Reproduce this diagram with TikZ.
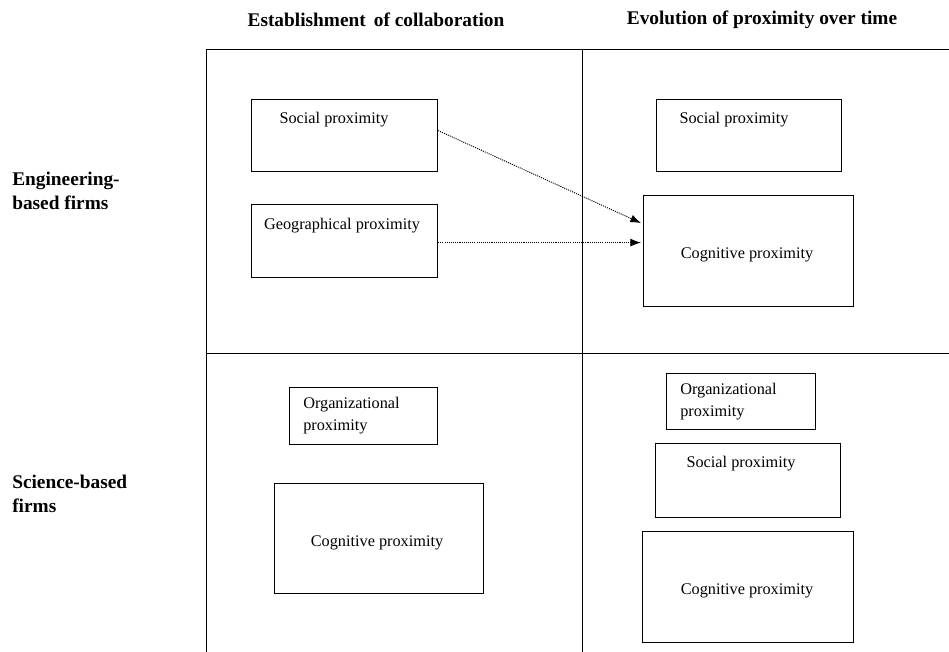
\documentclass[tikz,border=0pt]{standalone}
\usepackage{fontspec}
\setmainfont{Liberation Serif}
\usetikzlibrary{calc,arrows.meta}
\begin{document}
\begin{tikzpicture}[x=0.75pt,y=-0.75pt,
  box/.style={draw, line width=0.85pt, inner sep=0pt, anchor=north west},
  hdr/.style={font=\bfseries\fontsize{14.5}{17}\selectfont, inner sep=0pt},
  rowlab/.style={font=\bfseries\fontsize{14.5}{18}\selectfont, align=left, anchor=north west, inner sep=0pt},
  txt/.style={font=\fontsize{12.2}{16.5}\selectfont, inner sep=0pt},
  grid/.style={line width=0.75pt},
  flow/.style={line width=0.7pt, dash pattern=on 0.8pt off 0.8pt, -{Latex[length=8pt,width=6pt]}}]
\useasboundingbox (0,0) rectangle (949,652);
% grid
\draw[grid] (206,652) -- (206,50) -- (949,50);
\draw[grid] (582,50) -- (582,652);
\draw[grid] (206,353) -- (949,353);
% headers
\node[hdr] (h1) at (376,19.5) {Establishment\, of collaboration};
\node[hdr] (h2) at (762,19.5) {Evolution of proximity over time};
\node[rowlab] (r1) at (12,172) {Engineering-\\based firms};
\node[rowlab] (r2) at (12,475) {Science-based\\firms};
% top-left boxes
\node[box, minimum width={186*0.75}, minimum height={72*0.75}] (soc1) at (251,99) {};
\node[txt] (soc1t) at (334,119.5) {Social proximity};
\node[box, minimum width={186*0.75}, minimum height={73*0.75}] (geo) at (251,204) {};
\node[txt] (geot) at (342,225.5) {Geographical proximity};
% top-right
\node[box, minimum width={185*0.75}, minimum height={72*0.75}] (soc2) at (656,99) {};
\node[txt] (soc2t) at (734,119.5) {Social proximity};
\node[box, minimum width={210*0.75}, minimum height={111*0.75}] (cog1) at (643,195) {};
\node[txt] (cog1t) at (747,254.5) {Cognitive proximity};
% bottom-left
\node[box, minimum width={148*0.75}, minimum height={57*0.75}] (org1) at (289,387) {};
\node[txt, align=left, anchor=west] (org1t) at (303,415.5) {Organizational\\proximity};
\node[box, minimum width={209*0.75}, minimum height={110*0.75}] (cog2) at (274,483) {};
\node[txt] (cog2t) at (377,542.5) {Cognitive proximity};
% bottom-right
\node[box, minimum width={149*0.75}, minimum height={56*0.75}] (org2) at (666,373) {};
\node[txt, align=left, anchor=west] (org2t) at (680,401.5) {Organizational\\proximity};
\node[box, minimum width={185*0.75}, minimum height={74*0.75}] (soc3) at (655,443) {};
\node[txt] (soc3t) at (741,463.5) {Social proximity};
\node[box, minimum width={211*0.75}, minimum height={111*0.75}] (cog3) at (642,531) {};
\node[txt] (cog3t) at (747,590.5) {Cognitive proximity};
% arrows
\draw[flow] ($(soc1.east)+(0,-5)$) -- ($(cog1.west)+(-2,-28)$);
\draw[flow] ($(geo.east)+(0,1.5)$) -- ($(cog1.west)+(-2,-8.5)$);
\end{tikzpicture}
\end{document}
